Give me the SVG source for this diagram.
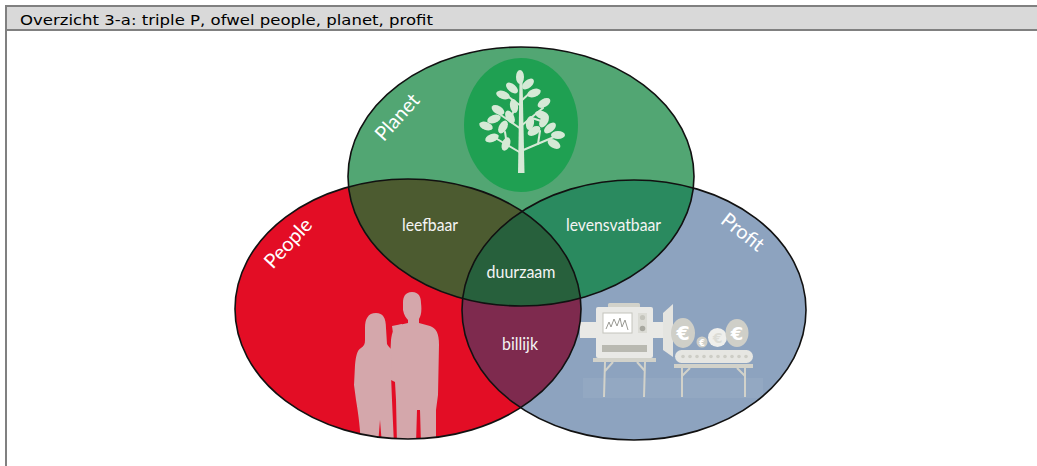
<svg xmlns="http://www.w3.org/2000/svg" width="1037" height="466" viewBox="0 0 1037 466">
<style>
.hdr{font-family:"DejaVu Sans","Liberation Sans",sans-serif;font-size:14.5px;fill:#000}
.big{font-family:Lato,"Open Sans","Liberation Sans",sans-serif;font-size:20px;fill:#ffffff}
.lbl{font-family:Lato,"Open Sans","Liberation Sans",sans-serif;font-size:17px;fill:#f4f4f4;text-anchor:middle}
.edge{fill:none;stroke:#111;stroke-width:1.6}
.leaf{fill:#d6e9d6}
.br{stroke:#d6e9d6;stroke-width:2;stroke-linecap:round;fill:none}
.mc{fill:#e9e9e6}
.md{fill:#d2d2ca}
.leg{stroke:#d2d2ca;stroke-width:2;fill:none}
.euro{font-family:"DejaVu Sans","Liberation Sans",sans-serif;font-weight:bold;fill:#ffffff;text-anchor:middle}
</style>
<defs>
<ellipse id="eRed" cx="408" cy="309" rx="173" ry="130"/>
<ellipse id="eGreen" cx="521" cy="176.5" rx="173" ry="129.5"/>
<ellipse id="eBlue" cx="634" cy="310" rx="172" ry="130"/>
<clipPath id="cRed"><use href="#eRed"/></clipPath>
<clipPath id="cBlue"><use href="#eBlue"/></clipPath>
<ellipse id="lf" rx="7" ry="4"/>
</defs>

<rect width="1037" height="466" fill="#ffffff"/>

<g id="header">
<rect x="5" y="7" width="1032" height="22" fill="#d9d9d9"/>
<rect x="5" y="5" width="1032" height="2" fill="#808080"/>
<rect x="5" y="29" width="1032" height="2" fill="#808080"/>
<rect x="5" y="5" width="2" height="461" fill="#808080"/>
<text class="hdr" x="20" y="24.5" textLength="413" lengthAdjust="spacingAndGlyphs">Overzicht 3-a: triple P, ofwel people, planet, profit</text>
</g>

<g id="people">
<use href="#eRed" fill="#e30d25"/>
<g clip-path="url(#cRed)" fill="#d4a7ab">
<path d="M412,292 C405,292 403,297 403,303 L403,310 C404,315 406,318 408,320 L408,323 L399,325 C394,327 392,332 391,340 L390,360 L391,380 L395,382 L396,400 L397,445 L416,445 L417,410 L420,410 L421,445 L436,445 L436,410 L438,395 L439,345 C439,333 436,328 430,326 L419,323 L419,319 C421,316 422,311 421,303 C421,297 419,292 412,292 Z"/>
<path d="M376,313 C368,313 365,319 365,328 L365,340 C365,344 364,346 361,348 C357,350 356,356 355,365 L354,385 L356,400 C358,412 360,425 361,445 L378,445 L380,420 L382,445 L394,445 L392,400 L391,375 L392,350 C390,348 388,346 387,344 L386,328 C386,318 383,313 376,313 Z"/>
<path d="M392,326 L402,324 L403,331 L393,333 Z"/>
</g>
</g>

<g id="profit">
<use href="#eBlue" fill="#8da3bf"/>
<g clip-path="url(#cBlue)">
<rect x="583" y="378" width="180" height="20" fill="#93a8c2"/>
<rect x="580" y="322" width="17" height="16" class="mc"/>
<rect x="608" y="303" width="32" height="5" rx="1.5" class="md"/>
<rect x="596" y="307" width="57" height="51" rx="2" class="mc"/>
<rect x="603" y="313" width="29" height="20" fill="#ffffff" stroke="#c4c4bc" stroke-width="1"/>
<path d="M606,329 L609,322 L611,327 L614,319 L617,326 L620,318 L622,327 L625,320 L628,330" fill="none" stroke="#9a9a94" stroke-width="1"/>
<rect x="638" y="313" width="9" height="20" fill="#dcdcd6"/>
<circle cx="642.5" cy="317.5" r="2.6" fill="#c4c4bc"/>
<circle cx="642.5" cy="328.5" r="2.8" fill="#a8a8a0"/>
<rect x="602" y="345" width="45" height="7" fill="#b9b9b1"/>
<rect x="593" y="358" width="63" height="4" class="md"/>
<path class="leg" d="M605,362 L604,397 M645,362 L644,397 M605,371 L613,362 M645,371 L637,362"/>
<rect x="653" y="322" width="10" height="16" class="mc"/>
<polygon points="663,313 673,304 673,357 663,350" fill="#e4e4e0"/>
<ellipse cx="683" cy="333" rx="12" ry="15" fill="#cfcfc8"/>
<text class="euro" x="683" y="340" font-size="19">€</text>
<circle cx="702" cy="342" r="5.5" fill="#cfcfc8"/>
<text class="euro" x="702" y="345.5" font-size="8">€</text>
<circle cx="717.5" cy="337.5" r="9.5" fill="#efefec"/>
<text class="euro" x="717.5" y="343" font-size="14" style="fill:#dcdcd6">€</text>
<ellipse cx="737" cy="333" rx="11.5" ry="14" fill="#cfcfc8"/>
<text class="euro" x="737" y="339.5" font-size="18">€</text>
<rect x="675" y="350" width="78" height="13" rx="6.5" fill="#e6e6e2"/>
<g fill="#cdcdc6">
<circle cx="683" cy="356.5" r="1.8"/><circle cx="690" cy="356.5" r="1.8"/><circle cx="697" cy="356.5" r="1.8"/><circle cx="704" cy="356.5" r="1.8"/><circle cx="711" cy="356.5" r="1.8"/><circle cx="718" cy="356.5" r="1.8"/><circle cx="725" cy="356.5" r="1.8"/><circle cx="732" cy="356.5" r="1.8"/><circle cx="739" cy="356.5" r="1.8"/><circle cx="746" cy="356.5" r="1.8"/>
</g>
<rect x="674" y="364" width="79" height="4" class="md"/>
<path class="leg" d="M682,368 L682,397 M745,368 L745,397 M682,376 L690,368 M745,376 L737,368"/>
</g>
</g>

<g id="planet">
<use href="#eGreen" fill="#52a673"/>
<ellipse cx="521" cy="125" rx="57" ry="67" fill="#1fa052"/>
<g id="tree">
<polygon points="518,173 524.5,173 522.5,80 519.5,80" fill="#d6e9d6"/>
<path class="br" d="M521,153 L492,136 M507,145 L505,132 M521,151 L554,137 M538,144 L540,131 M521,129 L498,113 M521,126 L543,108 M532,118 L541,121 M521,106 L506,95 M521,101 L532,91 M510,121 L514,110"/>
<g class="leaf">
<use href="#lf" transform="translate(520,77) rotate(-90)"/>
<use href="#lf" transform="translate(528,84) rotate(-40)"/>
<use href="#lf" transform="translate(512,88) rotate(-140)"/>
<use href="#lf" transform="translate(534,93) rotate(-20)"/>
<use href="#lf" transform="translate(503,95) rotate(-160)"/>
<use href="#lf" transform="translate(544,103) rotate(-30)"/>
<use href="#lf" transform="translate(498,110) rotate(-150)"/>
<use href="#lf" transform="translate(514,106) rotate(-100)"/>
<use href="#lf" transform="translate(542,115) rotate(20)"/>
<use href="#lf" transform="translate(494,119) rotate(160)"/>
<use href="#lf" transform="translate(503,127) rotate(120)"/>
<use href="#lf" transform="translate(544,121) rotate(-60)"/>
<use href="#lf" transform="translate(486,126) rotate(-160)"/>
<use href="#lf" transform="translate(534,131) rotate(150)"/>
<use href="#lf" transform="translate(550,128) rotate(-40)"/>
<use href="#lf" transform="translate(492,138) rotate(160)"/>
<use href="#lf" transform="translate(558,135) rotate(0)"/>
<use href="#lf" transform="translate(554,144) rotate(30)"/>
<use href="#lf" transform="translate(506,144) rotate(110)"/>
<use href="#lf" transform="translate(530,123) rotate(-80)"/>
<use href="#lf" transform="translate(510,117) rotate(-120)"/>
</g>
</g>
</g>

<g id="overlaps">
<g id="leefbaar" clip-path="url(#cRed)"><use href="#eGreen" fill="#4c5b30"/></g>
<g id="levensvatbaar" clip-path="url(#cBlue)"><use href="#eGreen" fill="#2a8a5f"/></g>
<g id="billijk" clip-path="url(#cRed)"><use href="#eBlue" fill="#7e2a4e"/></g>
<g id="duurzaam" clip-path="url(#cBlue)"><g clip-path="url(#cRed)"><use href="#eGreen" fill="#27603c"/></g></g>
</g>

<g id="outlines">
<use href="#eRed" class="edge"/>
<use href="#eBlue" class="edge"/>
<use href="#eGreen" class="edge"/>
</g>

<g id="labels">
<text class="big" text-anchor="middle" transform="translate(397,117) rotate(-48)" y="7">Planet</text>
<text class="big" text-anchor="middle" transform="translate(288,243) rotate(-47)" y="7">People</text>
<text class="big" text-anchor="middle" transform="translate(743,232) rotate(38)" y="7">Profit</text>
<text class="lbl" x="430" y="231" textLength="56" lengthAdjust="spacingAndGlyphs">leefbaar</text>
<text class="lbl" x="613.5" y="231" textLength="95" lengthAdjust="spacingAndGlyphs">levensvatbaar</text>
<text class="lbl" x="521" y="278" textLength="69" lengthAdjust="spacingAndGlyphs">duurzaam</text>
<text class="lbl" x="520" y="350" textLength="36" lengthAdjust="spacingAndGlyphs">billijk</text>
</g>
</svg>
